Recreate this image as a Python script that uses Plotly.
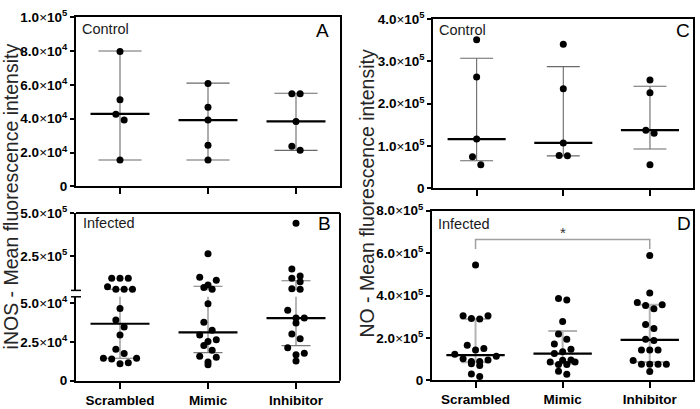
import plotly.graph_objects as go

W, H = 700, 409

# ---------------- data ----------------
categories = ["Scrambled", "Mimic", "Inhibitor"]

# Panel A - iNOS, control
a_scrambled = [79700, 51200, 42700, 39200, 15600]
a_mimic = [60800, 46700, 39200, 24300, 15600]
a_inhibitor = [54800, 54800, 38400, 23700, 21300]
a_median = [42900, 39200, 38400]
a_low = [15600, 15600, 21300]
a_high = [80000, 61000, 55000]

# Panel B - iNOS, infected (broken axis)
b_scrambled = [120000, 120000, 120000, 71000, 57000, 57000, 57000,
               46500, 39100, 34600, 29400, 20200, 17500, 14400, 14000, 14400, 10900, 11500]
b_mimic = [263000, 126000, 109000, 81000, 67000, 56000,
           49600, 37700, 32500, 29400, 26400, 25300, 22700, 19600, 15100, 15700, 10300, 12000]
b_inhibitor = [440000, 174000, 133000, 120000, 100000, 59000, 56000,
               45500, 40400, 40400, 37200, 30100, 27000, 21200, 17700, 16700, 12600]
b_median = [36700, 31100, 40400]
b_low = [14400, 18100, 22600]
b_high = [57000, 74000, 106000]

# Panel C - NO, control
c_scrambled = [351000, 263000, 116500, 75000, 56000]
c_mimic = [340000, 235000, 107500, 77500, 77000]
c_inhibitor = [256000, 226000, 137600, 130000, 56000]
c_median = [116500, 107500, 137600]
c_low = [65500, 77000, 93000]
c_high = [307000, 287500, 241000]

# Panel D - NO, infected
d_scrambled = [544000, 304000, 304000, 291000, 289000, 165000, 150000, 143000, 123000,
               113000, 101000, 96000, 88000, 88000, 78000, 70000, 30000, 18000]
d_mimic = [386000, 379000, 277000, 218000, 194000, 171000, 146000, 135000, 126000,
           96000, 94000, 86000, 86000, 74000, 74000, 43000, 28000]
d_inhibitor = [589000, 412000, 367000, 356000, 353000, 338000, 263000, 244000, 194000,
               188000, 143000, 143000, 143000, 93000, 75000, 75000, 75000, 75000, 41000]
d_median = [119000, 126000, 191000]
d_low = [85500, 78000, 86000]
d_high = [289500, 233000, 356000]

# tick labels
a_ticks = [0, 20000, 40000, 60000, 80000, 100000]
a_ticklabels = ["0", "2.0|4", "4.0|4", "6.0|4", "8.0|4", "1.0|5"]
b_low_ticks = [0, 25000, 50000]
b_low_ticklabels = ["0", "2.5|4", "5.0|4"]
b_up_ticks = [250000, 500000]
b_up_ticklabels = ["2.5|5", "5.0|5"]
c_ticks = [0, 100000, 200000, 300000, 400000]
c_ticklabels = ["0", "1.0|5", "2.0|5", "3.0|5", "4.0|5"]
d_ticks = [0, 200000, 400000, 600000, 800000]
d_ticklabels = ["0", "2.0|5", "4.0|5", "6.0|5", "8.0|5"]

# ---------------- layout geometry (pixels) ----------------
FONT = "Liberation Sans, Arial, sans-serif"
GEOM = {
    "A": dict(x=(76, 340), y=(7.5, 184.5), r=(0, 100000)),
    "Bu": dict(x=(76, 340), y=(212.3, 293.3), r=(50000, 500000)),
    "Bl": dict(x=(76, 340), y=(300, 387.7), r=(0, 54100)),
    "C": dict(x=(433.3, 693.3), y=(9.3, 186.7), r=(0, 400000)),
    "D": dict(x=(432, 693.3), y=(210, 387.3), r=(0, 800000)),
}
B_SPLIT = 54100


def xdom(g):
    return [g["x"][0] / W, g["x"][1] / W]


def ydom(g):
    return [1 - g["y"][1] / H, 1 - g["y"][0] / H]


def ypix(g, v):
    (top, bot), (r0, r1) = g["y"], g["r"]
    return bot - (v - r0) / (r1 - r0) * (bot - top)


def fmt(lbl):
    if "|" not in lbl:
        return f"<b>{lbl}</b>"
    m, e = lbl.split("|")
    return f"<b>{m}</b>×<b>10<sup>{e}</sup></b>"


def swarm(values, pixfun, px_per_cat, spacing=8.3, tol=8.5):
    py = [pixfun(v) for v in values]
    order = sorted(range(len(values)), key=lambda i: py[i])
    rows = []
    for i in order:
        if rows and py[i] - py[rows[-1][0]] <= tol:
            rows[-1].append(i)
        else:
            rows.append([i])
    offs = [0.0] * len(values)
    for row in rows:
        k = len(row)
        pos = [(j - (k - 1) / 2) * spacing for j in range(k)]
        pos.sort(key=lambda p: (-abs(p), p))
        row_sorted = sorted(row, key=lambda i: py[i])
        for i, p in zip(row_sorted, pos):
            offs[i] = p / px_per_cat
    return offs


fig = go.Figure()


def add_group(xa, ya_list, idx, vals, med, lo, hi, cap, wcolor, wwidth, pixfun, ppc, pt_axis):
    for ya in ya_list:
        fig.add_trace(go.Scatter(
            x=[idx, idx, None, idx - cap, idx + cap, None, idx - cap, idx + cap],
            y=[lo, hi, None, lo, lo, None, hi, hi],
            mode="lines", line=dict(color=wcolor, width=wwidth),
            xaxis=xa, yaxis=ya, hoverinfo="skip"))
        fig.add_trace(go.Scatter(
            x=[idx - 0.335, idx + 0.335], y=[med, med], mode="lines",
            line=dict(color="black", width=2.2), xaxis=xa, yaxis=ya, hoverinfo="skip"))
    offs = swarm(vals, pixfun, ppc)
    groups = {}
    for v, o in zip(vals, offs):
        ya = pt_axis(v)
        groups.setdefault(ya, ([], []))
        groups[ya][0].append(idx + o)
        groups[ya][1].append(v)
    for ya, (xs, ys) in groups.items():
        fig.add_trace(go.Scatter(
            x=xs, y=ys, mode="markers", cliponaxis=False,
            marker=dict(color="black", size=7, line=dict(width=0)),
            xaxis=xa, yaxis=ya))


def ppc_of(g):
    return (g["x"][1] - g["x"][0]) / 3.0


gA = GEOM["A"]
for i, vals in enumerate([a_scrambled, a_mimic, a_inhibitor]):
    add_group("x", ["y"], i, vals, a_median[i], a_low[i], a_high[i], 0.245, "#6a6a6a", 1.1,
              lambda v: ypix(gA, v), ppc_of(gA), lambda v: "y")

gBu, gBl = GEOM["Bu"], GEOM["Bl"]


def pixB(v):
    return ypix(gBu, v) if v > B_SPLIT else ypix(gBl, v)


for i, vals in enumerate([b_scrambled, b_mimic, b_inhibitor]):
    add_group("x2", ["y2", "y3"], i, vals, b_median[i], b_low[i], b_high[i], 0.165, "#7a7a7a", 1.1,
              pixB, ppc_of(gBl), lambda v: "y3" if v > B_SPLIT else "y2")

gC = GEOM["C"]
for i, vals in enumerate([c_scrambled, c_mimic, c_inhibitor]):
    add_group("x3", ["y4"], i, vals, c_median[i], c_low[i], c_high[i], 0.19, "#6a6a6a", 1.1,
              lambda v: ypix(gC, v), ppc_of(gC), lambda v: "y4")

gD = GEOM["D"]
for i, vals in enumerate([d_scrambled, d_mimic, d_inhibitor]):
    add_group("x4", ["y5"], i, vals, d_median[i], d_low[i], d_high[i], 0.165, "#b4b4b4", 2,
              lambda v: ypix(gD, v), ppc_of(gD), lambda v: "y5")

tickfont = dict(family=FONT, size=13.5, color="black")
axis_common = dict(showgrid=False, zeroline=False, showline=True, linecolor="black",
                   linewidth=2, ticks="outside", tickcolor="black", tickwidth=1.5,
                   fixedrange=True, tickfont=tickfont)


def xaxis(g, anchor, labels, mirror=True):
    d = dict(axis_common, domain=xdom(g), anchor=anchor, range=[-0.5, 2.5],
             tickvals=[0, 1, 2], ticklen=6, mirror=mirror, showticklabels=labels)
    if labels:
        d["ticktext"] = [f"<b>{c}</b>" for c in categories]
    return d


def yaxis(g, anchor, ticks, labels, mirror=True):
    return dict(axis_common, domain=ydom(g), anchor=anchor, range=list(g["r"]),
                tickvals=ticks, ticktext=[fmt(t) for t in labels], ticklen=4, mirror=mirror)


fig.update_layout(
    width=W, height=H, autosize=False,
    margin=dict(l=0, r=0, t=0, b=0),
    paper_bgcolor="white", plot_bgcolor="white",
    showlegend=False,
    xaxis=xaxis(gA, "y", False),
    xaxis2=xaxis(gBl, "y2", True, mirror=False),
    xaxis3=xaxis(gC, "y4", False),
    xaxis4=xaxis(gD, "y5", True),
    yaxis=yaxis(gA, "x", a_ticks, a_ticklabels),
    yaxis2=yaxis(gBl, "x2", b_low_ticks, b_low_ticklabels, mirror=False),
    yaxis3=yaxis(gBu, "x2", b_up_ticks, b_up_ticklabels, mirror=False),
    yaxis4=yaxis(gC, "x3", c_ticks, c_ticklabels),
    yaxis5=yaxis(gD, "x4", d_ticks, d_ticklabels),
)

bx0, bx1 = gBl["x"][0] / W, gBl["x"][1] / W
btop, bbot = 1 - gBu["y"][0] / H, 1 - gBl["y"][1] / H
shapes = [
    dict(type="line", xref="paper", yref="paper", x0=bx0, x1=bx1, y0=btop, y1=btop,
         line=dict(color="black", width=2)),
    dict(type="line", xref="paper", yref="paper", x0=bx1, x1=bx1, y0=bbot, y1=btop,
         line=dict(color="black", width=2)),
    dict(type="line", xref="paper", yref="paper", x0=bx0 - 5 / W, x1=bx0 + 5 / W,
         y0=1 - gBu["y"][1] / H, y1=1 - gBu["y"][1] / H, line=dict(color="black", width=1.5)),
    dict(type="line", xref="paper", yref="paper", x0=bx0 - 5 / W, x1=bx0 + 5 / W,
         y0=1 - gBl["y"][0] / H, y1=1 - gBl["y"][0] / H, line=dict(color="black", width=1.5)),
]

sig_pair = (0, 2)
sig_top, sig_leg = 664000, 619000
shapes.append(dict(type="path", xref="x4", yref="y5",
                   path=f"M {sig_pair[0]},{sig_leg} L {sig_pair[0]},{sig_top} "
                        f"L {sig_pair[1]},{sig_top} L {sig_pair[1]},{sig_leg}",
                   line=dict(color="#a0a0a0", width=1.5)))
fig.update_layout(shapes=shapes)

ann = []


def txt(x, y, s, size, anchor="left", color="#1a1a1a", angle=0):
    ann.append(dict(xref="paper", yref="paper", x=x / W, y=1 - y / H, text=s, showarrow=False,
                    xanchor=anchor, yanchor="middle", textangle=angle,
                    font=dict(family=FONT, size=size, color=color)))


txt(80, 19.5, "Control", 14.5)
txt(436.5, 21, "Control", 14.5)
txt(80.5, 222.5, "Infected", 14.5)
txt(435.5, 223.5, "Infected", 14.5)
txt(322.5, 21, "A", 19, "center", "black")
txt(324, 223, "B", 19, "center", "black")
txt(683, 21, "C", 19, "center", "black")
txt(684, 223, "D", 19, "center", "black")
txt(11, 195, "iNOS - Mean fluorescence intensity", 19.5, "center", "#262626", -90)
txt(367, 191, "NO - Mean fluorescence intensity", 19.5, "center", "#262626", -90)
ann.append(dict(xref="x4", yref="y5", x=(sig_pair[0] + sig_pair[1]) / 2, y=sig_top,
                text="*", showarrow=False, yanchor="bottom", yshift=-3,
                font=dict(family=FONT, size=15, color="#333333")))
fig.update_layout(annotations=ann)

fig.write_html("out.html", config={"displayModeBar": False},
               post_script="document.body.style.margin='0';")
